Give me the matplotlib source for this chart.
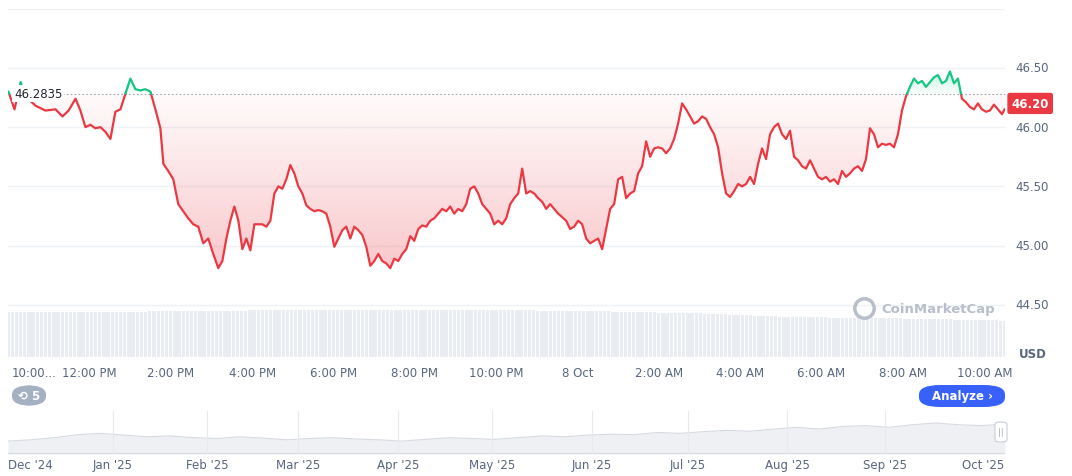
import numpy as np
import matplotlib
matplotlib.use("Agg")
import matplotlib.pyplot as plt
from matplotlib.path import Path
from matplotlib.patches import FancyBboxPatch

W, H = 1072, 477
baseline = 46.2835
last_price = 46.20
# sample times, hours since 10:00 (irregular sampling as read)
hours = np.r_[[0.01, 0.16, 0.31, 0.43, 0.68, 0.92, 1.17, 1.34, 1.49, 1.66],
              np.arange(1.78, 3.78, 0.1229)[:17], [3.82],
              np.arange(3.94, 5.2, 0.1229)[:11], np.arange(5.27, 24.6, 0.09828)]
prices = [46.30,46.15,46.38,46.26,46.18,46.14,46.15,46.09,46.14,46.24,46.14,46.00,46.02,45.99,46.00,45.96,45.90,46.13,46.15,46.28,46.41,46.32,46.31,46.32,46.30,46.15,45.99,45.69,45.63,45.56,45.35,45.29,45.23,45.18,45.16,45.02,45.06,44.93,44.81,44.87,45.06,45.21,45.33,45.21,44.97,45.06,44.96,45.18,45.18,45.18,45.16,45.21,45.44,45.50,45.48,45.56,45.68,45.61,45.50,45.44,45.34,45.31,45.29,45.30,45.29,45.27,45.16,44.99,45.06,45.13,45.16,45.06,45.16,45.13,45.09,44.99,44.83,44.87,44.93,44.87,44.85,44.81,44.89,44.87,44.93,44.97,45.08,45.04,45.14,45.17,45.16,45.21,45.23,45.27,45.31,45.29,45.33,45.27,45.31,45.29,45.35,45.48,45.50,45.44,45.35,45.31,45.27,45.18,45.21,45.18,45.23,45.35,45.40,45.44,45.65,45.44,45.46,45.44,45.40,45.37,45.31,45.35,45.31,45.27,45.24,45.21,45.14,45.16,45.21,45.18,45.06,45.02,45.04,45.06,44.97,45.14,45.31,45.35,45.56,45.58,45.40,45.44,45.46,45.61,45.67,45.88,45.75,45.82,45.83,45.82,45.78,45.82,45.90,46.03,46.20,46.15,46.09,46.03,46.05,46.09,46.07,46.00,45.94,45.83,45.61,45.44,45.41,45.46,45.52,45.50,45.52,45.58,45.52,45.69,45.82,45.73,45.94,46.00,46.03,45.94,45.90,45.97,45.75,45.72,45.67,45.65,45.72,45.65,45.58,45.56,45.58,45.54,45.56,45.52,45.63,45.58,45.61,45.65,45.67,45.63,45.73,45.99,45.94,45.83,45.86,45.85,45.86,45.83,45.94,46.14,46.26,46.34,46.41,46.37,46.39,46.34,46.38,46.42,46.44,46.37,46.39,46.47,46.37,46.41,46.24,46.21,46.17,46.15,46.20,46.15,46.13,46.14,46.19,46.15,46.11,46.15,46.20]
volume = [0.86,0.86,0.87,0.86,0.87,0.87,0.88,0.88,0.89,0.89,0.90,0.90,0.90,0.91,0.91,0.91,0.91,0.91,0.90,0.90,0.90,0.89,0.89,0.88,0.87,0.86,0.85,0.84,0.82,0.80,0.78,0.77,0.76,0.75,0.75,0.74,0.73,0.72,0.71,0.70]
yticks = [44.50, 45.00, 45.50, 46.00, 46.50]
xtick_hours = [0,2,4,6,8,10,12,14,16,18,20,22,24]
xtick_labels = ["10:00...","12:00 PM","2:00 PM","4:00 PM","6:00 PM","8:00 PM","10:00 PM","8 Oct","2:00 AM","4:00 AM","6:00 AM","8:00 AM","10:00 AM"]
nav_values = [0.30,0.33,0.38,0.45,0.48,0.44,0.40,0.42,0.38,0.36,0.40,0.37,0.33,0.36,0.38,0.35,0.33,0.30,0.34,0.38,0.36,0.34,0.38,0.42,0.40,0.44,0.46,0.45,0.50,0.48,0.52,0.55,0.53,0.58,0.62,0.58,0.64,0.66,0.62,0.68,0.72,0.68,0.66,0.70]
nav_months = ["Dec '24","Jan '25","Feb '25","Mar '25","Apr '25","May '25","Jun '25","Jul '25","Aug '25","Sep '25","Oct '25"]
nav_month_pos = [30,113,207,298,398,492,592,688,787,885,983]

RED = "#ea3943"; GREEN = "#16c784"; GREY = "#58667e"; GRID = "#eff2f5"

fig = plt.figure(figsize=(W/100, H/100), dpi=100)
def fax(x0, y0, x1, y1):
    return fig.add_axes([x0/W, 1-y1/H, (x1-x0)/W, (y1-y0)/H])

ax = fax(8, 10, 1005, 358)
xmax = 24.51
ylo, yhi = 44.06, 46.997
n = min(len(hours), len(prices))
x = np.clip(np.asarray(hours[:n], float), 0, 24.5)
y = np.array(prices[:n])

axv = fax(8, 306, 1005, 358)
nb = 240
vx = np.linspace(0, xmax, nb)
vh = np.interp(np.linspace(0, len(volume)-1, nb), np.arange(len(volume)), volume)
axv.bar(vx, vh, width=xmax/nb*0.8, color="#e9ecf1", zorder=1)
axv.set_xlim(0, xmax); axv.set_ylim(0, 1); axv.axis("off")
ax.set_zorder(2); ax.patch.set_alpha(0)

for t in yticks + [yhi]:
    ax.axhline(t, color=GRID, lw=1, zorder=0)
ax.axhline(baseline, color="#a0a7b3", lw=0.8, ls=(0, (1.5, 2)), zorder=1)

def grad_fill(where, extent, a0, a1, color):
    pc = ax.fill_between(x, y, baseline, where=where, interpolate=True, color="none", lw=0)
    paths = pc.get_paths()
    if not paths:
        return
    cp = Path.make_compound_path(*paths)
    g = np.zeros((256, 1, 4)); g[..., :3] = matplotlib.colors.to_rgb(color)
    g[:, 0, 3] = np.linspace(a0, a1, 256)
    im = ax.imshow(g, extent=extent, aspect="auto", origin="lower", zorder=1)
    im.set_clip_path(cp, ax.transData)

grad_fill(y < baseline, [0, xmax, 44.78, baseline], 0.28, 0.02, RED)
grad_fill(y > baseline, [0, xmax, baseline, 46.5], 0.02, 0.28, GREEN)

xs, ys = [x[0]], [y[0]]
for i in range(1, len(x)):
    if (y[i-1]-baseline)*(y[i]-baseline) < 0:
        f = (baseline-y[i-1])/(y[i]-y[i-1])
        xs.append(x[i-1]+f*(x[i]-x[i-1])); ys.append(baseline)
    xs.append(x[i]); ys.append(y[i])
xs, ys = np.array(xs), np.array(ys)
ax.plot(xs, np.where(ys <= baseline+1e-9, ys, np.nan), color=RED, lw=1.6, zorder=3)
ax.plot(xs, np.where(ys >= baseline-1e-9, ys, np.nan), color=GREEN, lw=1.6, zorder=3)

ax.set_xlim(0, xmax); ax.set_ylim(ylo, yhi)
for s in ax.spines.values(): s.set_visible(False)
ax.set_xticks([]); ax.set_yticks([])
for t in yticks:
    ax.text(1.01, (t-ylo)/(yhi-ylo), f"{t:.2f}", transform=ax.transAxes, color=GREY, fontsize=8.5, va="center", ha="left")
ax.text(1.0065, (last_price-ylo)/(yhi-ylo), f"{last_price:.2f}", transform=ax.transAxes, color="white", fontsize=8.5,
        fontweight="bold", va="center", ha="left", bbox=dict(boxstyle="round,pad=0.35,rounding_size=0.2", fc=RED, ec="none"))
ax.text(0.006, (baseline-ylo)/(yhi-ylo), f"{baseline:.4f}", transform=ax.transAxes, color="#222531", fontsize=8.5,
        va="center", ha="left", bbox=dict(boxstyle="square,pad=0.15", fc="white", ec="none"), zorder=5)
ax.text(1.014, 0.01, "USD", transform=ax.transAxes, color=GREY, fontsize=8.5, fontweight="bold", va="center", ha="left")
ax.text(0.876, 0.14, "CoinMarketCap", transform=ax.transAxes, color="#b8bfca", fontsize=9.5, fontweight="bold", va="center", ha="left", zorder=6)
ax.plot([0.859], [0.14], transform=ax.transAxes, marker="o", ms=14, mfc="none", mec="#b8bfca", mew=2.5, zorder=6)
for h, lab in zip(xtick_hours, xtick_labels):
    ax.text(h if h else 0.08, ylo-0.13, lab, color=GREY, fontsize=8.5, ha="left" if h == 0 else "center", va="center", clip_on=False)

fig.patches.append(FancyBboxPatch((12/W, 1-407/H), 34/W, 21/H, boxstyle="round,pad=0,rounding_size=0.02",
                                  transform=fig.transFigure, fc="#a6b0c3", ec="none"))
fig.text(29/W, 1-397/H, "⟲ 5", color="white", fontsize=8.5, fontweight="bold", ha="center", va="center")
fig.patches.append(FancyBboxPatch((919/W, 1-408/H), 86/W, 22/H, boxstyle="round,pad=0,rounding_size=0.02",
                                  transform=fig.transFigure, fc="#3861fb", ec="none"))
fig.text(962/W, 1-397/H, "Analyze ›", color="white", fontsize=8.5, fontweight="bold", ha="center", va="center")

axn = fax(8, 412, 1005, 455)
nx = np.linspace(0, 1, len(nav_values))
axn.fill_between(nx, nav_values, 0, color="#eef0f3", lw=0)
axn.plot(nx, nav_values, color="#d6dae1", lw=0.8)
axn.set_xlim(0, 1); axn.set_ylim(0, 1); axn.axis("off")
axn.axhline(0.02, color="#d6dae1", lw=0.8)
for p in nav_month_pos[1:-1]:
    axn.axvline((p-8)/997, color="#e6e9ee", lw=0.8)
for p, lab in zip(nav_month_pos, nav_months):
    fig.text(p/W, 1-466/H, lab, color=GREY, fontsize=8.5, ha="center", va="center")
fig.patches.append(FancyBboxPatch((995/W, 1-443/H), 12/W, 20/H, boxstyle="round,pad=0,rounding_size=0.005",
                                  transform=fig.transFigure, fc="white", ec="#c8ced8", lw=0.8))
fig.text(1001/W, 1-433/H, "||", color="#a6b0c3", fontsize=6, ha="center", va="center")

fig.savefig("out.png", dpi=100)
